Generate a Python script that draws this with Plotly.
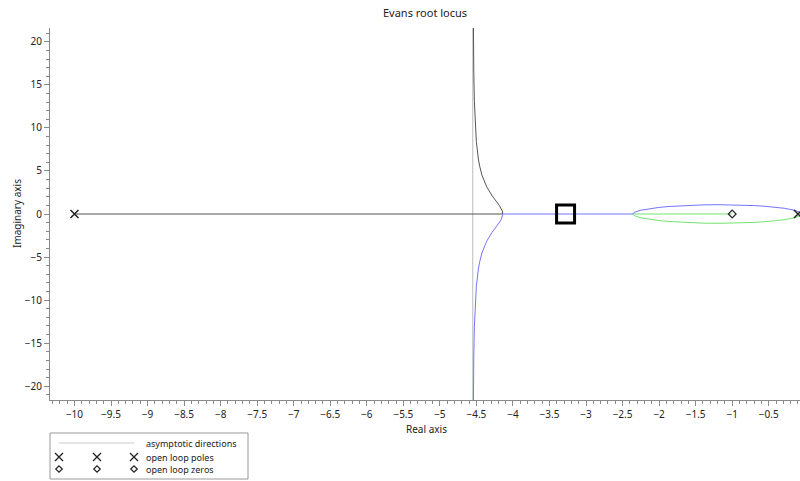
import plotly.graph_objects as go

# ---------------- data ----------------
poles_re = [-10.0, -0.1, 0.0]
poles_im = [0.0, 0.0, 0.0]
zeros_re = [-1.0]
zeros_im = [0.0]
asymptote_re = -4.55

# upper half of the small loop between the near-origin poles and the break-in point
loop_re = [-0.0512, -0.055, -0.075, -0.096, -0.1425, -0.2875, -0.4148, -0.55, -0.692,
           -0.845, -1.011, -1.193, -1.3977, -1.635, -1.865, -2.0025, -2.163, -2.26,
           -2.344, -2.36]
loop_im = [0.0, 0.0836, 0.211, 0.303, 0.428, 0.665, 0.798, 0.893, 0.977,
           1.034, 1.070, 1.081, 1.061, 0.993, 0.872, 0.764, 0.587, 0.423,
           0.175, 0.0]

# branch leaving the real axis at the breakaway point, towards the asymptote
tail_re = [-4.139, -4.145, -4.159, -4.188, -4.2305, -4.286, -4.359, -4.4237, -4.4547,
           -4.473, -4.501, -4.5197, -4.528, -4.5358, -4.539, -4.5406]
tail_im = [0.0, 0.34, 0.616, 1.01, 1.496, 2.13, 3.15, 4.51, 5.527,
           6.38, 8.42, 11.0, 13.08, 16.47, 19.27, 21.68]

marker_re = [-3.28]
marker_im = [0.0]

x_range = [-10.335, -0.072]
y_range = [-21.6, 21.6]

# ---------------- branches built from the arrays ----------------
black_x = [poles_re[0]] + tail_re
black_y = [0.0] + tail_im

blue_x = [poles_re[2]] + loop_re + tail_re
blue_y = [0.0] + loop_im + [-v for v in tail_im]

green_x = [poles_re[1]] + loop_re + zeros_re
green_y = [0.0] + [-v for v in loop_im] + [0.0]

W, H = 800, 481
PL, PR, PT, PB = 50, 800, 28, 400   # plot area in pixels
INK = "#222222"

fig = go.Figure()

# asymptote
fig.add_trace(go.Scatter(x=[asymptote_re, asymptote_re], y=[y_range[0] - 5, y_range[1] + 5],
                         mode="lines", line=dict(color="#bdbdbd", width=1),
                         hoverinfo="skip", showlegend=False))
fig.add_trace(go.Scatter(x=black_x, y=black_y, mode="lines",
                         line=dict(color="#555555", width=1), showlegend=False))
fig.add_trace(go.Scatter(x=green_x, y=green_y, mode="lines",
                         line=dict(color="#6fe46f", width=1), showlegend=False))
fig.add_trace(go.Scatter(x=blue_x, y=blue_y, mode="lines",
                         line=dict(color="#7474ff", width=1), showlegend=False))
fig.add_trace(go.Scatter(x=poles_re, y=poles_im, mode="markers",
                         marker=dict(symbol="x-thin-open", size=8, color=INK,
                                     line=dict(color=INK, width=1.5)),
                         showlegend=False))
fig.add_trace(go.Scatter(x=zeros_re, y=zeros_im, mode="markers",
                         marker=dict(symbol="diamond-open", size=6, color=INK,
                                     line=dict(color=INK, width=1.2)),
                         showlegend=False))
fig.add_trace(go.Scatter(x=marker_re, y=marker_im, mode="markers",
                         marker=dict(symbol="square-open", size=18, color="black",
                                     line=dict(color="black", width=3)),
                         showlegend=False))

# ---------------- legend drawn on an auxiliary pixel axis ----------------
LX0, LX1, LY0, LY1 = 50, 248, 433, 479
rows_y = [443, 457, 469]
glyph_x = [59, 97, 134]
fig.add_trace(go.Scatter(x=[glyph_x[0], glyph_x[-1]], y=[rows_y[0]] * 2, mode="lines",
                         line=dict(color="#c8c8c8", width=1), xaxis="x2", yaxis="y2",
                         showlegend=False, hoverinfo="skip"))
fig.add_trace(go.Scatter(x=glyph_x, y=[rows_y[1]] * 3, mode="markers",
                         marker=dict(symbol="x-thin-open", size=8, color=INK,
                                     line=dict(color=INK, width=1.3)),
                         xaxis="x2", yaxis="y2", showlegend=False, hoverinfo="skip"))
fig.add_trace(go.Scatter(x=glyph_x, y=[rows_y[2]] * 3, mode="markers",
                         marker=dict(symbol="diamond-open", size=5, color=INK,
                                     line=dict(color=INK, width=1.2)),
                         xaxis="x2", yaxis="y2", showlegend=False, hoverinfo="skip"))
legend_texts = ["asymptotic directions", "open loop poles", "open loop zeros"]
annotations = []
for t, yy in zip(legend_texts, rows_y):
    annotations.append(dict(x=144, y=yy, xref="x2", yref="y2", text=t, showarrow=False,
                            xanchor="left", yanchor="middle",
                            font=dict(size=9, color=INK)))

font_family = "Noto Sans, Liberation Sans, Arial, sans-serif"
annotations += [
    dict(x=(PL + PR) / 2 / W, y=1 - 13 / H, xref="paper", yref="paper", text="Evans root locus",
         showarrow=False, xanchor="center", yanchor="middle", font=dict(size=11, color=INK)),
    dict(x=427 / W, y=1 - 429 / H, xref="paper", yref="paper", text="Real axis",
         showarrow=False, xanchor="center", yanchor="middle", font=dict(size=10, color=INK)),
    dict(x=17 / W, y=1 - 214 / H, xref="paper", yref="paper", text="Imaginary axis",
         showarrow=False, xanchor="center", yanchor="middle", textangle=-90,
         font=dict(size=10, color=INK)),
]

fig.update_layout(
    width=W, height=H,
    margin=dict(l=0, r=0, t=0, b=0),
    paper_bgcolor="white", plot_bgcolor="white",
    font=dict(family=font_family, size=10, color=INK),
    showlegend=False,
    xaxis=dict(domain=[PL / W, PR / W], range=x_range, dtick=0.5, tick0=0,
               showgrid=False, zeroline=False, showline=True, linecolor="#8a8a8a",
               ticks="outside", ticklen=5, tickcolor="#8a8a8a",
               minor=dict(dtick=0.1, tick0=0, ticks="outside", ticklen=3, tickcolor="#8a8a8a"),
               tickfont=dict(size=10, color=INK), anchor="y", fixedrange=True),
    yaxis=dict(domain=[1 - PB / H, 1 - PT / H], range=y_range, dtick=5, tick0=0,
               showgrid=False, zeroline=False, showline=True, linecolor="#8a8a8a",
               ticks="outside", ticklen=5, tickcolor="#8a8a8a",
               minor=dict(dtick=1, tick0=0, ticks="outside", ticklen=3, tickcolor="#8a8a8a"),
               tickfont=dict(size=10, color=INK), anchor="x", fixedrange=True),
    xaxis2=dict(domain=[LX0 / W, LX1 / W], range=[LX0, LX1], visible=False, anchor="y2"),
    yaxis2=dict(domain=[1 - LY1 / H, 1 - LY0 / H], range=[LY1, LY0], visible=False, anchor="x2"),
    shapes=[dict(type="rect", xref="paper", yref="paper",
                 x0=LX0 / W, x1=LX1 / W, y0=1 - LY1 / H, y1=1 - LY0 / H,
                 line=dict(color="#999999", width=1), fillcolor="rgba(0,0,0,0)")],
    annotations=annotations,
)

fig.write_html("out.html")
